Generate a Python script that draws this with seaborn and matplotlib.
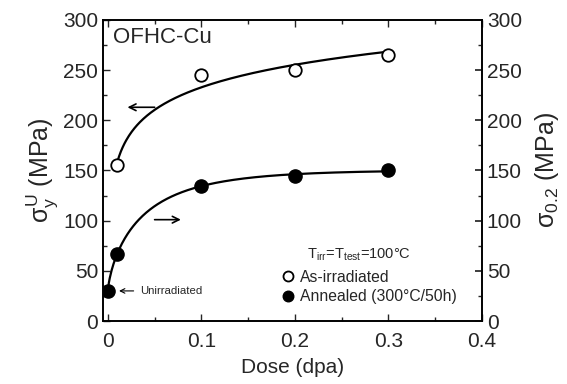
import numpy as np
import pandas as pd
import matplotlib
matplotlib.use("Agg")
import matplotlib.pyplot as plt
import seaborn as sns
from matplotlib.ticker import MultipleLocator

# ---- data ----
dose_irr = [0.01, 0.1, 0.2, 0.3]
sigma_irr = [155, 245, 250, 265]
dose_ann = [0.0, 0.01, 0.1, 0.2, 0.3]
sigma_ann = [30, 67, 135, 145, 150]
x_ticks = [0, 0.1, 0.2, 0.3, 0.4]
x_ticklabels = ['0', '0.1', '0.2', '0.3', '0.4']
y_ticks = [0, 50, 100, 150, 200, 250, 300]

sns.set_theme(style="ticks")
plt.rcParams['font.family'] = ['Liberation Sans', 'DejaVu Sans']
plt.rcParams['mathtext.fontset'] = 'custom'
plt.rcParams['mathtext.rm'] = 'Liberation Sans'
plt.rcParams['mathtext.it'] = 'Liberation Sans'


def fit_log(x, y):
    """Least-squares fit y = a + b*ln(x)."""
    x = np.asarray(x, float)
    y = np.asarray(y, float)
    b, a = np.polyfit(np.log(x), y, 1)
    xs = np.linspace(x.min(), x.max(), 300)
    return xs, a + b * np.log(xs)


def fit_sat(x, y):
    """Least-squares fit y = a + b*(1-exp(-(x/c)**p)) over a small grid of c, p."""
    x = np.asarray(x, float)
    y = np.asarray(y, float)
    best = None
    for p in np.linspace(0.3, 1.0, 36):
        for c in np.logspace(-3, 0.5, 120):
            f = 1 - np.exp(-(x / c) ** p)
            A = np.vstack([np.ones_like(f), f]).T
            coef, *_ = np.linalg.lstsq(A, y, rcond=None)
            r = np.sum((A @ coef - y) ** 2)
            if best is None or r < best[0]:
                best = (r, p, c, coef)
    _, p, c, coef = best
    xs = np.linspace(x.min(), x.max(), 300)
    return xs, coef[0] + coef[1] * (1 - np.exp(-(xs / c) ** p))


fig = plt.figure(figsize=(5.67, 3.84), dpi=100)
ax = fig.add_axes([0.182, 0.164, 0.668, 0.784])

xs1, ys1 = fit_log(dose_irr, sigma_irr)
xs2, ys2 = fit_sat(dose_ann, sigma_ann)
sns.lineplot(x=xs1, y=ys1, ax=ax, color='black', lw=1.6, sort=False)
sns.lineplot(x=xs2, y=ys2, ax=ax, color='black', lw=1.6, sort=False)

ax.plot(dose_irr, sigma_irr, 'o', ms=9, mfc='white', mec='black', mew=1.3,
        label='As-irradiated', zorder=5)
ax.plot(dose_ann, sigma_ann, 'o', ms=9.5, mfc='black', mec='black',
        label='Annealed (300°C/50h)', zorder=5)

ax.set_xlim(-0.005, 0.4)
ax.set_ylim(0, 300)
ax.set_xticks(x_ticks)
ax.set_xticklabels(x_ticklabels)
ax.set_yticks(y_ticks)
ax.xaxis.set_minor_locator(MultipleLocator(0.05))
ax.yaxis.set_minor_locator(MultipleLocator(25))
ax.tick_params(which='both', direction='in', top=True, labelsize=15, width=1)
ax.tick_params(axis='x', pad=8)
ax.tick_params(which='major', length=5)
ax.tick_params(which='minor', length=3)
for s in ax.spines.values():
    s.set_linewidth(1.2)
    s.set_color('black')

ax.set_xlabel('Dose (dpa)', fontsize=15, labelpad=5)
ax.set_ylabel(r'$\sigma_y^U$ (MPa)', fontsize=18, labelpad=2)

ax2 = ax.twinx()
ax2.set_ylim(0, 300)
ax2.set_yticks(y_ticks)
ax2.yaxis.set_minor_locator(MultipleLocator(25))
ax2.tick_params(which='both', direction='in', labelsize=15)
ax2.tick_params(which='major', length=5)
ax2.tick_params(which='minor', length=3)
ax2.set_ylabel(r'$\sigma_{0.2}$ (MPa)', fontsize=18, labelpad=8)
for s in ax2.spines.values():
    s.set_linewidth(1.2)
    s.set_color('black')

ax.text(0.005, 283, 'OFHC-Cu', fontsize=16, va='center', ha='left')

ax.annotate('', xy=(0.018, 213), xytext=(0.053, 213),
            arrowprops=dict(arrowstyle='->', color='black', lw=1.2))
ax.annotate('', xy=(0.081, 101), xytext=(0.047, 101),
            arrowprops=dict(arrowstyle='->', color='black', lw=1.2))
ax.annotate('Unirradiated', xy=(0.009, 30), xytext=(0.034, 30),
            fontsize=8.2, va='center',
            arrowprops=dict(arrowstyle='->', color='black', lw=0.8))

ax.text(0.2125, 66, r'T$_{\rm irr}$=T$_{\rm test}$=100°C', fontsize=10.5,
        va='center', ha='left')
leg = ax.legend(loc='lower left', bbox_to_anchor=(0.45, 0.035), frameon=False,
                fontsize=11.3, handletextpad=0.3, borderaxespad=0.0,
                labelspacing=0.3, handlelength=1.0, markerscale=0.8)

fig.savefig('out.png', dpi=100)
